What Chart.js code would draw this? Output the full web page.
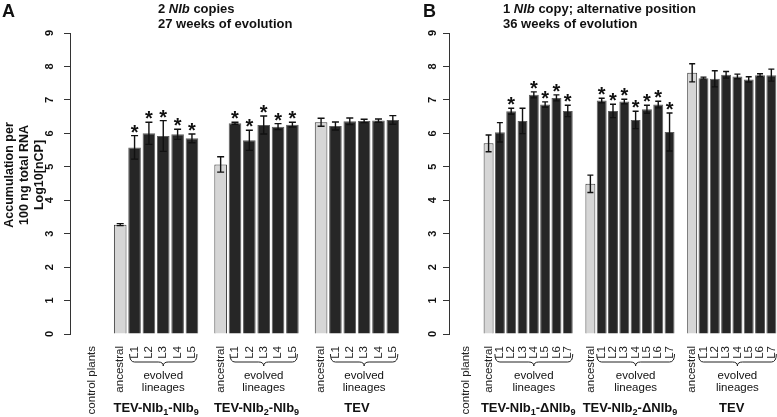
<!DOCTYPE html>
<html>
<head>
<meta charset="utf-8">
<script src="https://cdn.jsdelivr.net/npm/chart.js@4.4.1/dist/chart.umd.min.js"></script>
<style>
  body { margin: 0; background: #fff; }
  #wrap { position: relative; width: 777px; height: 417px; }
  #wrap canvas { position: absolute; left: 0; top: 0; }
</style>
</head>
<body>
<div id="wrap">
  <canvas id="panelA" width="777" height="417"></canvas>
  <canvas id="panelB" width="777" height="417"></canvas>
</div>
<script>
const yTicks = [0, 1, 2, 3, 4, 5, 6, 7, 8, 9]

// panel A : 2 NIb copies, 27 weeks
const linesA = ['L1', 'L2', 'L3', 'L4', 'L5']
const groupsA = ['TEV-NIb_1-NIb_9', 'TEV-NIb_2-NIb_9', 'TEV']
const meansA1 = [3.27, 5.58, 6.00, 5.92, 5.97, 5.85]
const errsA1  = [0.03, 0.35, 0.33, 0.46, 0.15, 0.13]
const starsA1 = [0, 1, 1, 1, 1, 1]
const meansA2 = [5.07, 6.30, 5.79, 6.25, 6.20, 6.26]
const errsA2  = [0.23, 0.03, 0.30, 0.27, 0.09, 0.07]
const starsA2 = [0, 1, 1, 1, 1, 1]
const meansA3 = [6.33, 6.22, 6.36, 6.37, 6.38, 6.40]
const errsA3  = [0.12, 0.12, 0.10, 0.05, 0.05, 0.13]
const starsA3 = [0, 0, 0, 0, 0, 0]

// panel B : 1 NIb copy, alternative position, 36 weeks
const linesB = ['L1', 'L2', 'L3', 'L4', 'L5', 'L6', 'L7']
const groupsB = ['TEV-NIb_1-ΔNIb_9', 'TEV-NIb_2-ΔNIb_9', 'TEV']
const meansB1 = [5.70, 6.03, 6.66, 6.37, 7.15, 6.86, 7.06, 6.67]
const errsB1  = [0.25, 0.29, 0.09, 0.38, 0.09, 0.08, 0.09, 0.17]
const starsB1 = [0, 0, 1, 0, 1, 1, 1, 1]
const meansB2 = [4.49, 6.98, 6.67, 6.95, 6.40, 6.72, 6.86, 6.04]
const errsB2  = [0.26, 0.07, 0.20, 0.07, 0.26, 0.12, 0.10, 0.57]
const starsB2 = [0, 1, 1, 1, 1, 1, 1, 1]
const meansB3 = [7.81, 7.65, 7.63, 7.75, 7.70, 7.61, 7.74, 7.74]
const errsB3  = [0.27, 0.03, 0.24, 0.10, 0.07, 0.08, 0.04, 0.18]
const starsB3 = [0, 0, 0, 0, 0, 0, 0, 0]

const FONT = 'Liberation Sans, Arial, Helvetica, sans-serif'
const DARK = '#262626'
const LIGHT = '#d6d6d6'

// turns "2 *NIb* copies" / "TEV-NIb_1" into styled pieces
function parseRich(text) {
  const parts = []
  let italic = false
  for (let i = 0; i < text.length; i++) {
    const c = text[i]
    if (c === '*') { italic = !italic; continue }
    if (c === '_') { parts.push({ t: text[++i], italic, sub: true }); continue }
    const last = parts[parts.length - 1]
    if (last && !last.sub && last.italic === italic) last.t += c
    else parts.push({ t: c, italic, sub: false })
  }
  return parts
}

function drawRich(ctx, text, x, y, size, align) {
  const parts = parseRich(text)
  const fontOf = p => (p.italic ? 'italic ' : '') + 'bold ' + (p.sub ? size * 0.7 : size) + 'px ' + FONT
  let w = 0
  parts.forEach(p => { ctx.font = fontOf(p); p.w = ctx.measureText(p.t).width; w += p.w })
  let cx = align === 'center' ? x - w / 2 : x
  ctx.textAlign = 'left'
  ctx.textBaseline = 'alphabetic'
  parts.forEach(p => {
    ctx.font = fontOf(p)
    ctx.fillText(p.t, cx, p.sub ? y + size * 0.25 : y)
    cx += p.w
  })
}

function brace(ctx, x1, x2, yTop, yMid, yTip) {
  const xm = (x1 + x2) / 2, r = 5
  ctx.beginPath()
  ctx.moveTo(x1, yTop)
  ctx.quadraticCurveTo(x1, yMid, x1 + r, yMid)
  ctx.lineTo(xm - r, yMid)
  ctx.quadraticCurveTo(xm, yMid, xm, yTip)
  ctx.quadraticCurveTo(xm, yMid, xm + r, yMid)
  ctx.lineTo(x2 - r, yMid)
  ctx.quadraticCurveTo(x2, yMid, x2, yTop)
  ctx.stroke()
}

function criaPainel(id, p) {
  // slots: blank, control plants, blank, then groups separated by a blank slot
  const labels = ['', 'control plants', '']
  const means = [null, null, null], errs = [null, null, null], stars = [0, 0, 0]
  const grupos = []
  p.groups.forEach((nome, g) => {
    if (g > 0) { labels.push(''); means.push(null); errs.push(null); stars.push(0) }
    const start = labels.length
    labels.push('ancestral', ...p.lines)
    means.push(...p.means[g]); errs.push(...p.errs[g]); stars.push(...p.stars[g])
    grupos.push({ nome, start, end: labels.length - 1 })
  })

  const decor = {
    id: 'decor' + id,
    afterDatasetsDraw(chart) {
      const ctx = chart.ctx
      const ys = chart.scales.y
      const meta = chart.getDatasetMeta(0)
      ctx.save()
      ctx.strokeStyle = '#111'
      ctx.fillStyle = '#111'
      ctx.lineWidth = 1.4
      meta.data.forEach((bar, i) => {
        if (means[i] == null) return
        const top = ys.getPixelForValue(means[i] + errs[i])
        const bot = ys.getPixelForValue(means[i] - errs[i])
        const cap = p.cap
        ctx.beginPath()
        ctx.moveTo(bar.x, top); ctx.lineTo(bar.x, bot)
        ctx.moveTo(bar.x - cap, top); ctx.lineTo(bar.x + cap, top)
        ctx.moveTo(bar.x - cap, bot); ctx.lineTo(bar.x + cap, bot)
        ctx.stroke()
        if (stars[i]) {
          ctx.font = 'bold 20px ' + FONT
          ctx.textAlign = 'center'
          ctx.textBaseline = 'alphabetic'
          ctx.fillText('*', bar.x, top + 3)
        }
      })
      ctx.restore()
    },
    afterDraw(chart) {
      const ctx = chart.ctx
      const ys = chart.scales.y
      const xs = chart.scales.x
      const left = chart.chartArea.left
      ctx.save()
      ctx.fillStyle = '#111'
      ctx.strokeStyle = '#222'

      // panel letter and title
      ctx.font = 'bold 18px ' + FONT
      ctx.textAlign = 'left'
      ctx.textBaseline = 'alphabetic'
      ctx.fillText(p.letter, p.letterX, 17)
      p.title.forEach((t, k) => drawRich(ctx, t, p.titleX, 13 + k * 15, 13, 'left'))

      // y tick labels, rotated like the axis
      ctx.font = 'bold 11px ' + FONT
      yTicks.forEach(v => {
        ctx.save()
        ctx.translate(left - p.yLabelOffset, ys.getPixelForValue(v))
        ctx.rotate(-Math.PI / 2)
        ctx.textAlign = 'center'
        ctx.fillText(String(v), 0, 0)
        ctx.restore()
      })

      // y axis title
      if (p.yTitle) {
        ctx.font = 'bold 12.5px ' + FONT
        p.yTitle.forEach((t, k) => {
          ctx.save()
          ctx.translate(12.5 + k * 15, 175)
          ctx.rotate(-Math.PI / 2)
          ctx.textAlign = 'center'
          ctx.fillText(t, 0, 0)
          ctx.restore()
        })
      }

      // braces, "evolved lineages" and group names
      ctx.lineWidth = 1
      grupos.forEach(gr => {
        const x1 = xs.getPixelForValue(gr.start + 1)
        const x2 = xs.getPixelForValue(gr.end)
        brace(ctx, x1 - 5, x2 + 5, 354, 362, 366)
        const xm = (x1 + x2) / 2
        ctx.font = '11.5px ' + FONT
        ctx.textAlign = 'center'
        ctx.fillText('evolved', xm, 378.5)
        ctx.fillText('lineages', xm, 391)
        const xg = (xs.getPixelForValue(gr.start) + x2) / 2
        drawRich(ctx, gr.nome, xg, 411.5, 13, 'center')
      })
      ctx.restore()
    }
  }

  return new Chart(document.getElementById(id), {
    type: 'bar',
    data: {
      labels,
      datasets: [{
        data: means,
        backgroundColor: labels.map(l => l === 'ancestral' ? LIGHT : DARK),
        borderColor: labels.map(l => l === 'ancestral' ? '#3a3a3a' : '#5e5e5e'),
        borderWidth: 1,
        barPercentage: 0.88,
        categoryPercentage: 1
      }]
    },
    options: {
      responsive: false,
      animation: false,
      layout: { padding: { left: p.padLeft, right: p.padRight, top: 33, bottom: 0 } },
      plugins: { legend: { display: false }, tooltip: { enabled: false } },
      scales: {
        x: {
          grid: { display: false, drawTicks: false },
          border: { display: false },
          ticks: {
            autoSkip: false,
            minRotation: 90,
            maxRotation: 90,
            padding: 12,
            color: '#222',
            font: { family: FONT, size: 11.5 }
          },
          afterFit(s) { s.height = 83; s.paddingLeft = 0; s.paddingRight = 0 }
        },
        y: {
          min: 0,
          max: 9,
          ticks: { stepSize: 1, display: false },
          grid: { drawOnChartArea: false, drawTicks: true, tickLength: 6, color: '#333' },
          border: { display: true, color: '#333', width: 1 }
        }
      }
    },
    plugins: [decor]
  })
}

criaPainel('panelA', {
  letter: 'A', letterX: 2,
  title: ['2 *NIb* copies', '27 weeks of evolution'], titleX: 158,
  yTitle: ['Accumulation per', '100 ng total RNA', 'Log10[nCP]'],
  groups: groupsA, lines: linesA,
  means: [meansA1, meansA2, meansA3], errs: [errsA1, errsA2, errsA3], stars: [starsA1, starsA2, starsA3],
  padLeft: 64, padRight: 377, yLabelOffset: 17, cap: 3.5
})

criaPainel('panelB', {
  letter: 'B', letterX: 423,
  title: ['1 *NIb* copy; alternative position', '36 weeks of evolution'], titleX: 503,
  groups: groupsB, lines: linesB,
  means: [meansB1, meansB2, meansB3], errs: [errsB1, errsB2, errsB3], stars: [starsB1, starsB2, starsB3],
  padLeft: 443, padRight: 0, yLabelOffset: 13.5, cap: 3
})
</script>
</body>
</html>
